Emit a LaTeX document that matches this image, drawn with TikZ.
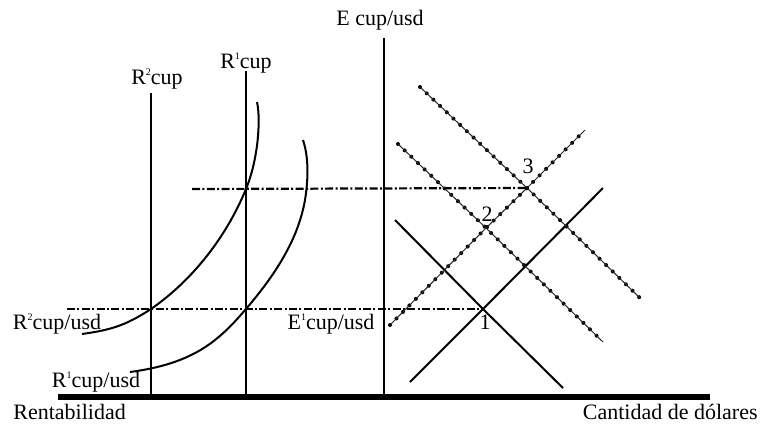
\documentclass[tikz,border=0pt]{standalone}
\usepackage{fontspec}
\setmainfont{Liberation Serif}
\usetikzlibrary{positioning, calc}
\newcommand{\supnum}[1]{\raisebox{0.9ex}{\fontsize{5}{5}\selectfont #1}}
\tikzset{
    axis/.style={line width=2.6pt, draw=black},
    rline/.style={line width=1pt, draw=black},
    curve/.style={line width=1pt, draw=black, line join=round},
    guide/.style={line width=1.1pt, draw=black, dash pattern=on 4pt off 1.2pt on 1pt off 1.2pt},
    dotline/.style={line width=0.5pt, draw=black!85, preaction={draw, line width=2pt, line cap=round, dash pattern=on 0pt off 4.6pt}},
    lbl/.style={font=\fontsize{11}{13}\selectfont, inner sep=0pt}
}
\begin{document}
\begin{tikzpicture}[x=0.5pt, y=-0.5pt]
        \useasboundingbox (0,0) rectangle (761,425);
        % points
        \coordinate (p1) at (483,309);
        \coordinate (p2) at (486,228);
        \coordinate (p3) at (527,188);
        % axis
        \coordinate (base l) at (58,397);
        \coordinate (base r) at (710,397);
        \draw[axis] (base l) -- (base r);
        \node[lbl, anchor=west] (rent) at (13,412) {Rentabilidad};
        \node[lbl, anchor=east] (cant) at (758,412) {Cantidad de dólares};
        % vertical lines
        \coordinate (r2 top) at (151,93);
        \coordinate (r1 top) at (246,71);
        \coordinate (e top) at (384,38);
        \draw[rline] (r2 top) -- (151,397);
        \draw[rline] (r1 top) -- (246,397);
        \draw[rline] (e top) -- (384,397);
        \node[lbl] (r2cup) at (157,79) {R\supnum{2}cup};
        \node[lbl] (r1cup) at (246,63) {R\supnum{1}cup};
        \node[lbl] (ecup) at (380,20) {E cup/usd};
        % guide lines
        \coordinate (g up) at (192,189);
        \coordinate (g low) at (67,309);
        \draw[guide] (g up) -- (p3);
        \draw[guide] (g low) -- (p1);
        \node[lbl] (r2usd) at (57,324) {R\supnum{2}cup/usd};
        \node[lbl] (r1usd) at (96,382) {R\supnum{1}cup/usd};
        \node[lbl] (e1usd) at (331,324) {E\supnum{1}cup/usd};
        % curves
        \draw[curve] (82,334) .. controls (110,330) and (125,326) .. (151,309)
            .. controls (190,282) and (225,240) .. (246,189)
            .. controls (258,160) and (261,120) .. (257,102);
        \draw[curve] (130,372) .. controls (160,368) and (190,360) .. (215,340)
            .. controls (230,328) and (238,318) .. (246,309)
            .. controls (275,275) and (298,240) .. (305,200)
            .. controls (309,175) and (308,155) .. (303,140);
        % solid lines
        \draw[rline] (395,220) -- (p1) -- (563,388);
        \draw[rline] (410,382) -- (p1) -- (603,188);
        % dotted lines
        \draw[dotline] (390,325) -- (p2) -- (p3) -- (585,130);
        \draw[dotline] (398,144) -- (p2) -- (603,342);
        \draw[dotline] (420,87) -- (p3) -- (640,298);
        \node[lbl] (n1) at (485,322) {1};
        \node[lbl] (n2) at (487,214) {2};
        \node[lbl] (n3) at (528,166) {3};
    \end{tikzpicture}
\end{document}
